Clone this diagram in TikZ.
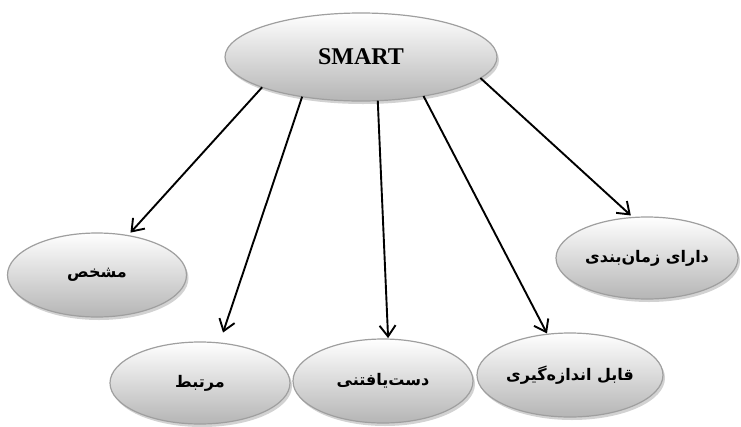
\documentclass[tikz,border=0pt]{standalone}
\usepackage{fontspec}
\setmainfont{Liberation Serif}
\newfontfamily\arabicfont[Script=Arabic]{DejaVu Sans}
\TeXXeTstate=1
\usetikzlibrary{shapes.geometric,arrows.meta,shadows}
\begin{document}
\begin{tikzpicture}[x=1pt,y=-1pt,
  bubble/.style={ellipse, draw=gray!75, line width=1.2pt, top color=white, bottom color=gray!58,
    inner sep=0pt, outer sep=0pt,
    drop shadow={shadow xshift=2pt, shadow yshift=-3pt, opacity=0.35, fill=gray}},
  fa/.style={font=\arabicfont\bfseries\fontsize{16}{18}\selectfont},
  link/.style={line width=1.9pt, -{Straight Barb[length=11pt,width=16pt,line width=1.9pt]}}]
\useasboundingbox (0,0) rectangle (741,426);
\fill[white] (0,0) rectangle (741,426);
\node[bubble, minimum width=272pt, minimum height=88pt, font=\bfseries\fontsize{24}{27}\selectfont] (smart) at (361,57) {SMART};
\node[bubble, fa, minimum width=179pt, minimum height=84pt] (mosh) at (97,275) {\beginR مشخص\endR};
\node[bubble, fa, minimum width=182pt, minimum height=82pt] (zam) at (647,258) {\beginR دارای زمان^^^^200cبندی\endR};
\node[bubble, fa, minimum width=180pt, minimum height=82pt] (mor) at (200,383) {\beginR مرتبط\endR};
\node[bubble, fa, minimum width=180pt, minimum height=84pt] (dast) at (383,381) {\beginR دست^^^^200cیافتنی\endR};
\node[bubble, fa, minimum width=186pt, minimum height=84pt] (qab) at (570,375) {\beginR قابل اندازه^^^^200cگیری\endR};
\draw[link, shorten >=4pt] (smart.197) -- (mosh.52);
\draw[link, shorten >=11pt] (smart.214) -- (mor.64);
\draw[link, shorten >=1pt] (smart.291) -- (dast.83);
\draw[link, shorten >=1pt] (smart.328) -- (qab.119);
\draw[link, shorten >=3pt] (smart.350) -- (zam.109);
\end{tikzpicture}
\end{document}
